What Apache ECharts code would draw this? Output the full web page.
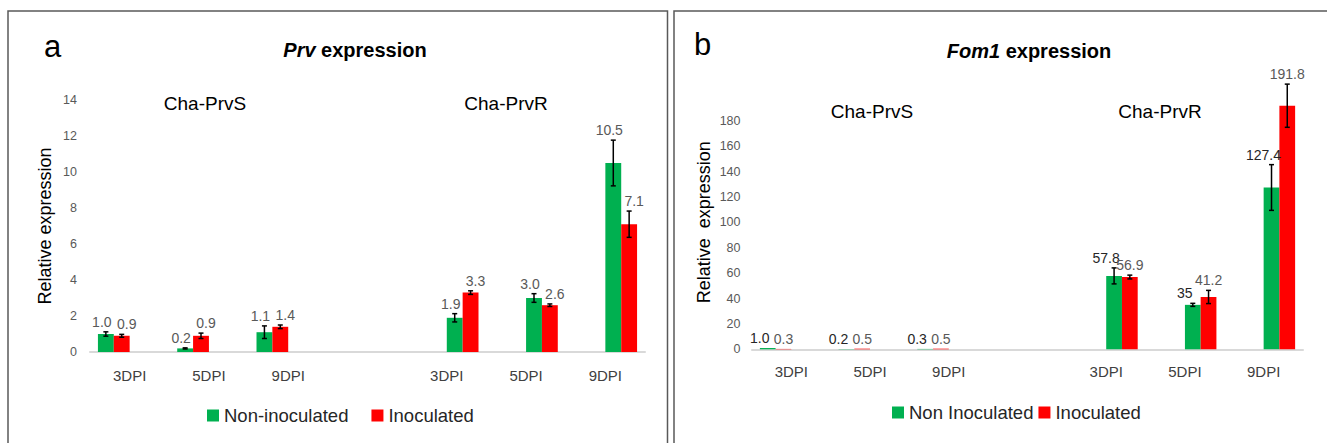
<!DOCTYPE html>
<html><head><meta charset="utf-8">
<script src="https://cdn.jsdelivr.net/npm/echarts@6/dist/echarts.min.js"></script>
<style>html,body{margin:0;padding:0;background:#fff}#c{width:1327px;height:443px}</style>
</head><body><div id="c"></div>
<script>
// ---- categories (one blank slot separates the two genotypes) ----
const categories = ['3DPI', '5DPI', '9DPI', '', '3DPI', '5DPI', '9DPI'];
const groupS = [0, 1, 2];   // Cha-PrvS slots
const groupR = [4, 5, 6];   // Cha-PrvR slots

// ---- panel a : Prv expression ----
const prvS_non = [1.0, 0.2, 1.1];
const prvS_non_err = [0.12, 0.03, 0.35];
const prvS_ino = [0.9, 0.9, 1.4];
const prvS_ino_err = [0.08, 0.15, 0.10];
const prvR_non = [1.9, 3.0, 10.5];
const prvR_non_err = [0.23, 0.24, 1.27];
const prvR_ino = [3.3, 2.6, 7.1];
const prvR_ino_err = [0.10, 0.07, 0.73];
const prvAxis = { min: 0, max: 14, interval: 2 };

// ---- panel b : Fom1 expression ----
const fomS_non = [1.0, 0.2, 0.3];
const fomS_non_err = [0, 0, 0];
const fomS_ino = [0.3, 0.5, 0.5];
const fomS_ino_err = [0, 0, 0];
const fomR_non = [57.8, 35, 127.4];
const fomR_non_err = [6.3, 1.2, 18];
const fomR_ino = [56.9, 41.2, 191.8];
const fomR_ino_err = [1.5, 5.2, 17];
const fomAxis = { min: 0, max: 200, interval: 20 };

const FONT = '"Liberation Sans", Arial, sans-serif';
const GREEN = '#00B050', RED = '#FF0000';

function place(vals, idxs) {
  const arr = categories.map(() => null);
  idxs.forEach((x, k) => { arr[x] = vals[k]; });
  return arr;
}
function fmt(v) { return (Number.isInteger(v) && v >= 10) ? String(v) : v.toFixed(1); }

function barSeries(name, vals, idxs, color, ai) {
  return { type: 'bar', name: name, xAxisIndex: ai, yAxisIndex: ai,
    data: place(vals, idxs), itemStyle: { color: color },
    barGap: '0%', barCategoryGap: '20%', z: 2 };
}
function errSeries(id, vals, errs, idxs, slot, ai, dx, labelColor) {
  return { type: 'custom', name: id, xAxisIndex: ai, yAxisIndex: ai, z: 10,
    encode: { x: 0, y: 1 },
    data: idxs.map((x, k) => [x, vals[k], errs[k]]),
    renderItem: function (params, api) {
      const x = api.value(0), v = api.value(1), e = api.value(2);
      const band = api.size([1, 0])[0];
      const cx = api.coord([x, v])[0] + slot * band;
      const yTop = api.coord([x, v + e])[1];
      const yBot = api.coord([x, Math.max(0, v - e)])[1];
      const ls = { stroke: '#000', lineWidth: 1.5 };
      const ch = [];
      if (e > 0) {
        ch.push({ type: 'line', shape: { x1: cx, y1: yTop, x2: cx, y2: yBot }, style: ls });
        ch.push({ type: 'line', shape: { x1: cx - 2.5, y1: yTop, x2: cx + 2.5, y2: yTop }, style: ls });
        ch.push({ type: 'line', shape: { x1: cx - 2.5, y1: yBot, x2: cx + 2.5, y2: yBot }, style: ls });
      }
      ch.push({ type: 'text', x: cx + dx, y: yTop - 10,
        style: { text: fmt(v), align: 'center', verticalAlign: 'middle',
          fill: labelColor, font: '14px ' + FONT } });
      return { type: 'group', children: ch };
    } };
}

const slots = [-0.3, -0.1, 0.1, 0.3];

const xAxisBase = {
  type: 'category', data: categories,
  axisLine: { lineStyle: { color: '#d9d9d9', width: 2 } },
  axisTick: { show: false },
  axisLabel: { interval: 0, fontSize: 15, color: '#404040', fontFamily: FONT, margin: 16 }
};
const yAxisBase = {
  type: 'value', splitLine: { show: false }, axisLine: { show: false }, axisTick: { show: false },
  nameLocation: 'middle', nameRotate: 90,
  nameTextStyle: { fontSize: 18, color: '#000', fontFamily: FONT }
};

const option = {
  animation: false,
  backgroundColor: '#fff',
  title: [
    { text: '{i|Prv}{b| expression}', left: 350, top: 35, textAlign: 'center',
      textStyle: { fontSize: 20, fontWeight: 'bold', fontFamily: FONT, color: '#000',
        rich: { i: { fontStyle: 'italic', fontWeight: 'bold', fontSize: 20, fontFamily: FONT, color: '#000' },
                b: { fontWeight: 'bold', fontSize: 20, fontFamily: FONT, color: '#000' } } } },
    { text: '{i|Fom1}{b| expression}', left: 1024, top: 36, textAlign: 'center',
      textStyle: { fontSize: 20, fontWeight: 'bold', fontFamily: FONT, color: '#000',
        rich: { i: { fontStyle: 'italic', fontWeight: 'bold', fontSize: 20, fontFamily: FONT, color: '#000' },
                b: { fontWeight: 'bold', fontSize: 20, fontFamily: FONT, color: '#000' } } } }
  ],
  legend: [
    { data: ['Non-inoculated', 'Inoculated'], left: 202, top: 401, icon: 'rect',
      itemWidth: 12, itemHeight: 12, itemGap: 23,
      textStyle: { fontSize: 18.5, color: '#262626', fontFamily: FONT } },
    { data: ['Non Inoculated', 'Inoculated'], left: 887, top: 398, icon: 'rect',
      itemWidth: 12, itemHeight: 12, itemGap: 5,
      textStyle: { fontSize: 18.5, color: '#262626', fontFamily: FONT } }
  ],
  grid: [
    { left: 90, top: 100, width: 555, height: 252 },
    { left: 752, top: 95.3, width: 551, height: 254 }
  ],
  xAxis: [
    Object.assign({}, xAxisBase, { gridIndex: 0 }),
    Object.assign({}, xAxisBase, { gridIndex: 1, axisLabel: Object.assign({}, xAxisBase.axisLabel, { margin: 15 }) })
  ],
  yAxis: [
    Object.assign({}, yAxisBase, prvAxis, { gridIndex: 0, name: 'Relative expression', nameGap: 36,
      axisLabel: { fontSize: 12.5, color: '#595959', fontFamily: FONT, margin: 13 } }),
    Object.assign({}, yAxisBase, fomAxis, { gridIndex: 1, name: 'Relative  expression', nameGap: 39,
      axisLabel: { fontSize: 12.5, color: '#595959', fontFamily: FONT, margin: 11.5, showMaxLabel: false } })
  ],
  graphic: [
    { type: 'rect', shape: { x: 8, y: 11, width: 659.5, height: 500 }, style: { fill: 'none', stroke: '#595959', lineWidth: 1.5 } },
    { type: 'rect', shape: { x: 674, y: 11, width: 700, height: 500 }, style: { fill: 'none', stroke: '#595959', lineWidth: 1.5 } },
    { type: 'text', x: 44, y: 46, style: { text: 'a', font: '31px ' + FONT, fill: '#000', align: 'left', verticalAlign: 'middle' } },
    { type: 'text', x: 694, y: 44, style: { text: 'b', font: '31px ' + FONT, fill: '#000', align: 'left', verticalAlign: 'middle' } },
    { type: 'text', x: 205, y: 103, style: { text: 'Cha-PrvS', font: '19px ' + FONT, fill: '#000', align: 'center', verticalAlign: 'middle' } },
    { type: 'text', x: 506, y: 103, style: { text: 'Cha-PrvR', font: '19px ' + FONT, fill: '#000', align: 'center', verticalAlign: 'middle' } },
    { type: 'text', x: 872, y: 111, style: { text: 'Cha-PrvS', font: '19px ' + FONT, fill: '#000', align: 'center', verticalAlign: 'middle' } },
    { type: 'text', x: 1160, y: 111, style: { text: 'Cha-PrvR', font: '19px ' + FONT, fill: '#000', align: 'center', verticalAlign: 'middle' } }
  ],
  series: [
    barSeries('Non-inoculated', prvS_non, groupS, GREEN, 0),
    barSeries('Inoculated', prvS_ino, groupS, RED, 0),
    barSeries('Non-inoculated', prvR_non, groupR, GREEN, 0),
    barSeries('Inoculated', prvR_ino, groupR, RED, 0),
    barSeries('Non Inoculated', fomS_non, groupS, GREEN, 1),
    barSeries('Inoculated', fomS_ino, groupS, RED, 1),
    barSeries('Non Inoculated', fomR_non, groupR, GREEN, 1),
    barSeries('Inoculated', fomR_ino, groupR, RED, 1),
    errSeries('eA1', prvS_non, prvS_non_err, groupS, slots[0], 0, -4, '#595959'),
    errSeries('eA2', prvS_ino, prvS_ino_err, groupS, slots[1], 0, 5, '#595959'),
    errSeries('eA3', prvR_non, prvR_non_err, groupR, slots[2], 0, -4, '#595959'),
    errSeries('eA4', prvR_ino, prvR_ino_err, groupR, slots[3], 0, 5, '#595959'),
    errSeries('eB1', fomS_non, fomS_non_err, groupS, slots[0], 1, -8, '#262626'),
    errSeries('eB2', fomS_ino, fomS_ino_err, groupS, slots[1], 1, 0, '#595959'),
    errSeries('eB3', fomR_non, fomR_non_err, groupR, slots[2], 1, -8, '#262626'),
    errSeries('eB4', fomR_ino, fomR_ino_err, groupR, slots[3], 1, 0, '#595959')
  ]
};
const chart = echarts.init(document.getElementById('c'), null, { renderer: 'svg' });
chart.setOption(option);
</script>
</body></html>
